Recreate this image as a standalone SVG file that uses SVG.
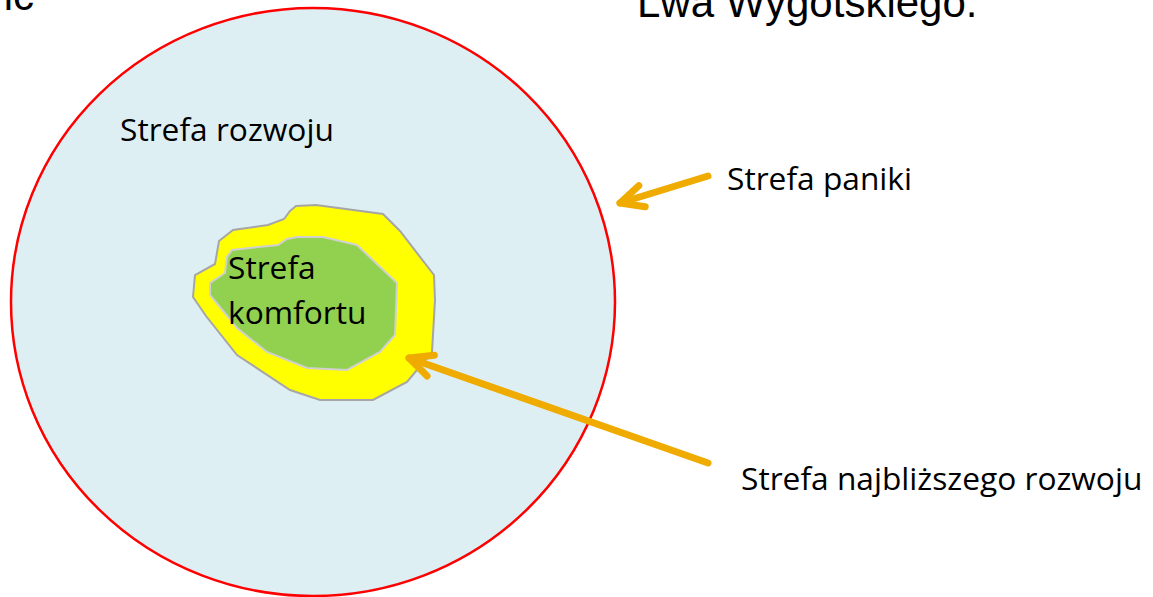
<svg xmlns="http://www.w3.org/2000/svg" width="1153" height="597" viewBox="0 0 1153 597">
<style>
.lbl{font-family:"Open Sans","Noto Sans",sans-serif;font-size:31.7px;fill:#000}
.title{font-family:"Liberation Sans",Arial,sans-serif;font-size:42px;fill:#000}
.arr{stroke:#EFAB00;stroke-width:7;stroke-linecap:round;fill:none}
</style>
<defs>
<marker id="head" markerUnits="userSpaceOnUse" viewBox="-30 -16 36 32" refX="0" refY="0" markerWidth="36" markerHeight="32" orient="auto" overflow="visible">
<path d="M-23,-11 L0,0 L-23,11" fill="none" stroke="#EFAB00" stroke-width="7" stroke-linecap="round" stroke-linejoin="round"/>
</marker>
</defs>
<rect width="1153" height="597" fill="#fff"/>
<g id="title">
<text class="title" x="34" y="10" text-anchor="end">ic</text>
<text class="title" x="637" y="17">Lwa Wygotskiego.</text>
</g>
<g id="strefa-rozwoju">
<ellipse cx="313" cy="302" rx="302" ry="294" fill="#DEEFF3" stroke="#FF0000" stroke-width="2.5"/>
<text class="lbl" x="120" y="141">Strefa rozwoju</text>
</g>
<g id="strefa-najblizszego">
<polygon points="290,211 296,206 316,205 383,214 400,231 434,275 435,300 432,352 407,382 373,400 320,400 290,390 237,355 206,316 193,297 195,275 215,264 219,241 233,230 268,225 284,219" fill="#FFFF00" stroke="#A6A6A6" stroke-width="2"/>
</g>
<g id="strefa-komfortu">
<polygon points="297,237 323,237 357,245 397,283 395,335 380,352 347,370 307,368 267,352 237,328 210,295 210,283 225,273 227,257 232,250 258,247 278,245 287,239" fill="#92D050" stroke="#D0D0D0" stroke-width="2"/>
<text class="lbl" x="228" y="279">Strefa</text>
<text class="lbl" x="228" y="324">komfortu</text>
</g>
<g id="connectors">
<line class="arr" x1="708" y1="176" x2="620" y2="203" marker-end="url(#head)"/>
<line class="arr" x1="708" y1="463" x2="409" y2="358" marker-end="url(#head)"/>
</g>
<g id="strefa-paniki">
<text class="lbl" x="727" y="190">Strefa paniki</text>
</g>
<g id="strefa-najblizszego-label">
<text class="lbl" x="741" y="490">Strefa najbliższego rozwoju</text>
</g>
</svg>
